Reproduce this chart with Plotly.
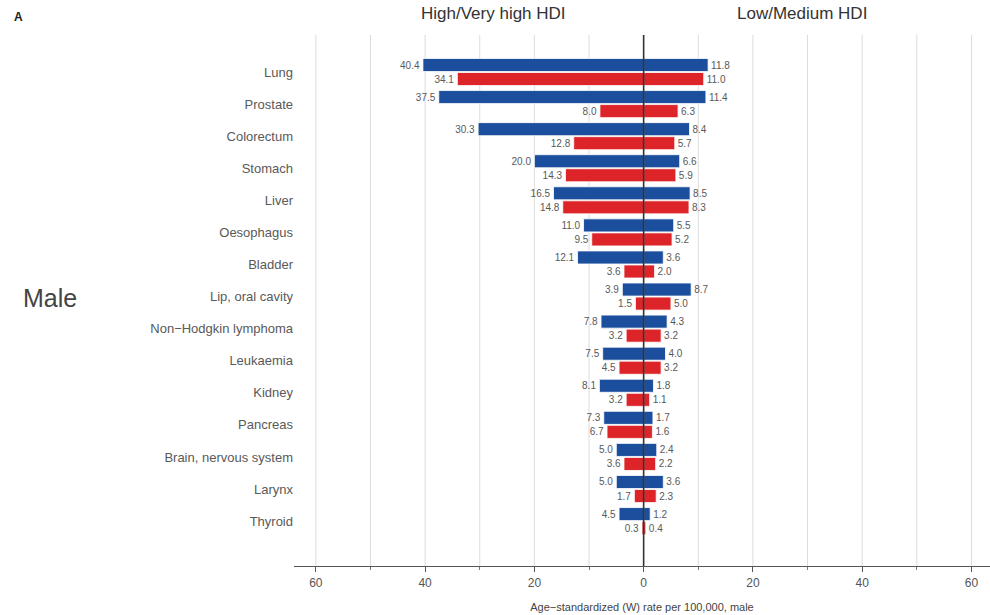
import plotly.graph_objects as go

# Cancer sites, top to bottom
sites = ["Lung", "Prostate", "Colorectum", "Stomach", "Liver", "Oesophagus", "Bladder",
         "Lip, oral cavity", "Non\u2212Hodgkin lymphoma", "Leukaemia", "Kidney", "Pancreas",
         "Brain, nervous system", "Larynx", "Thyroid"]

# Incidence (blue) and mortality (red), age-standardized rate per 100,000, male
incidence_high = [40.4, 37.5, 30.3, 20.0, 16.5, 11.0, 12.1, 3.9, 7.8, 7.5, 8.1, 7.3, 5.0, 5.0, 4.5]
incidence_low = [11.8, 11.4, 8.4, 6.6, 8.5, 5.5, 3.6, 8.7, 4.3, 4.0, 1.8, 1.7, 2.4, 3.6, 1.2]
mortality_high = [34.1, 8.0, 12.8, 14.3, 14.8, 9.5, 3.6, 1.5, 3.2, 4.5, 3.2, 6.7, 3.6, 1.7, 0.3]
mortality_low = [11.0, 6.3, 5.7, 5.9, 8.3, 5.2, 2.0, 5.0, 3.2, 3.2, 1.1, 1.6, 2.2, 2.3, 0.4]

x_ticks = [-60, -40, -20, 0, 20, 40, 60]
x_tick_text = ["60", "40", "20", "0", "20", "40", "60"]

BLUE = "#1b4f9e"
RED = "#dd2428"
FONT = "Liberation Sans"


def mirrored_trace(high, low, color, name):
    # High/Very high HDI drawn to the left of zero, Low/Medium HDI to the right
    xs = [-v for v in high] + list(low)
    texts = [f"{v:.1f}" for v in high] + [f"{v:.1f}" for v in low]
    return go.Bar(
        y=sites + sites, x=xs, orientation="h", name=name,
        marker=dict(color=color, line=dict(color="white", width=0.8)),
        text=texts, textposition="outside", cliponaxis=False,
        textfont=dict(size=10, color="#595959", family=FONT),
        showlegend=False, hoverinfo="skip",
    )


fig = go.Figure()
fig.add_trace(mirrored_trace(incidence_high, incidence_low, BLUE, "Incidence"))
fig.add_trace(mirrored_trace(mortality_high, mortality_low, RED, "Mortality"))

# Vertical gridlines every 10 units and a dark zero line on top of the bars
for gx in range(-60, 61, 10):
    if gx == 0:
        continue
    fig.add_shape(type="line", xref="x", yref="paper", x0=gx, x1=gx, y0=0, y1=1,
                  line=dict(color="#dcdcdc", width=1), layer="below")
fig.add_shape(type="line", xref="x", yref="paper", x0=0, x1=0, y0=0, y1=1,
              line=dict(color="#333333", width=1.6), layer="above")

fig.update_layout(
    width=990, height=615,
    margin=dict(l=294, r=0, t=35, b=49),
    paper_bgcolor="white", plot_bgcolor="white",
    barmode="group", bargap=0.125, bargroupgap=0.07,
    font=dict(family=FONT, color="#444444"),
    xaxis=dict(
        range=[-64.0, 63.4], tickvals=x_ticks, ticktext=x_tick_text,
        showgrid=False, zeroline=False,
        showline=True, linecolor="#555555", linewidth=1.2,
        ticks="outside", ticklen=5, tickcolor="#555555",
        minor=dict(tickvals=[-50, -30, -10, 10, 30, 50], ticks="outside", ticklen=3,
                   tickcolor="#777777"),
        tickfont=dict(size=12, color="#555555"),
        title=dict(text="Age\u2212standardized (W) rate per 100,000, male",
                   font=dict(size=11, color="#444444"), standoff=14),
        fixedrange=True,
    ),
    yaxis=dict(
        type="category", categoryorder="array", categoryarray=sites,
        range=[15.40, -1.154], showgrid=False, zeroline=False, showline=False,
        ticks="", tickfont=dict(size=13, color="#595959"),
        fixedrange=True,
    ),
    annotations=[
        dict(text="High/Very high HDI", xref="x", yref="paper", x=-27.5, y=1.04,
             showarrow=False, font=dict(size=17, color="#333333"), yanchor="middle"),
        dict(text="Low/Medium HDI", xref="x", yref="paper", x=29.0, y=1.04,
             showarrow=False, font=dict(size=17, color="#333333"), yanchor="middle"),
        dict(text="<b>A</b>", xref="paper", yref="paper", x=-0.405, y=1.034,
             xanchor="left", yanchor="middle", showarrow=False,
             font=dict(size=12, color="#222222")),
        dict(text="Male", xref="paper", yref="paper", x=-0.3506, y=0.505,
             xanchor="center", yanchor="middle", showarrow=False,
             font=dict(size=25, color="#444444")),
    ],
)

fig.write_html("out.html")
